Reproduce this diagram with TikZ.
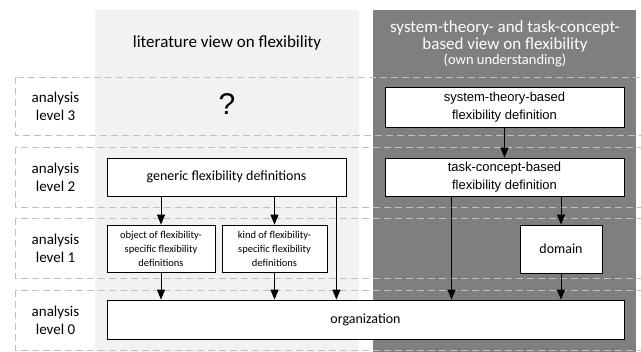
\documentclass[tikz,border=0pt]{standalone}
\usepackage{fontspec}
\setmainfont{Carlito}
\newfontfamily\arialfont{Liberation Sans}
\usetikzlibrary{arrows.meta}
\definecolor{panellight}{HTML}{F2F2F2}
\definecolor{paneldark}{HTML}{7F7F7F}
\definecolor{dashgray}{HTML}{C0C0C0}
\tikzset{
  levelrow/.style={draw=dashgray, line width=0.9pt, dash pattern=on 7pt off 4pt},
  levellab/.style={font=\fontsize{15}{18}\selectfont, align=center},
  defbox/.style={draw=black, fill=white, line width=0.8pt, inner sep=0pt, align=center},
  bigtext/.style={font=\fontsize{14}{17}\selectfont},
  arialtext/.style={font=\arialfont\fontsize{13}{18}\selectfont},
  smalltext/.style={font=\fontsize{10.5}{14}\selectfont},
  link/.style={draw=black, line width=1pt, -{Triangle[length=10pt,width=8pt]}},
}

\begin{document}
\begin{tikzpicture}[x=1pt,y=-1pt]
  \useasboundingbox (0,0) rectangle (641,352);
  % the two views
  \fill[panellight] (95,10) rectangle (359,352);
  \fill[paneldark] (373,10) rectangle (636,352);

  % analysis levels
  \foreach \top/\bot/\n in {77/135/3, 147/207/2, 218/278/1, 290/350/0} {
    \draw[levelrow] (15,\top) rectangle (660,\bot);
    \node[levellab] (lev\n) at (55.5,{(\top+\bot)/2}) {analysis\\level \n};
  }

  \node[font=\fontsize{17}{20}\selectfont] (littitle) at (227,43) {literature view on flexibility};
  \node[text=white, align=center, font=\fontsize{17}{17}\selectfont] (owntitle) at (505,44)
    {system-theory- and task-concept-\\based view on flexibility\\[-2pt]
     {\fontsize{14.5}{15}\selectfont (own understanding)}};
  \node[font=\arialfont\fontsize{30}{32}\selectfont] (unknown) at (227,104) {?};

  \node[defbox, arialtext, minimum width=239pt, minimum height=40pt] (system) at (504.5,107)
    {system-theory-based\\flexibility definition};
  \node[defbox, arialtext, minimum width=239pt, minimum height=38pt] (task) at (504.5,177)
    {task-concept-based\\flexibility definition};
  \node[defbox, bigtext, minimum width=239pt, minimum height=38pt] (generic) at (226.5,177)
    {generic flexibility definitions};
  \node[defbox, smalltext, minimum width=108pt, minimum height=47pt] (object) at (161,248.5)
    {object of flexibility-\\specific flexibility\\definitions};
  \node[defbox, smalltext, minimum width=105pt, minimum height=47pt] (kind) at (274.5,248.5)
    {kind of flexibility-\\specific flexibility\\definitions};
  \node[defbox, bigtext, minimum width=82pt, minimum height=48pt] (domain) at (561,249) {domain};
  \node[defbox, bigtext, minimum width=517pt, minimum height=39pt] (org) at (365.5,319.5) {organization};

  \draw[link] (system) -- (task);
  \draw[link] (generic.south -| object.north) -- (object.north);
  \draw[link] (generic.south -| kind.north) -- (kind.north);
  \draw[link] (object) -- (object.south |- org.north);
  \draw[link] (kind) -- (kind.south |- org.north);
  \draw[link] ([xshift=-10pt]generic.south east) -- ([xshift=-10pt]generic.south east |- org.north);
  \draw[link] ([xshift=67pt]task.south west) -- ([xshift=67pt]task.south west |- org.north);
  \draw[link] (task.south -| domain.north) -- (domain.north);
  \draw[link] (domain) -- (domain.south |- org.north);
\end{tikzpicture}
\end{document}
